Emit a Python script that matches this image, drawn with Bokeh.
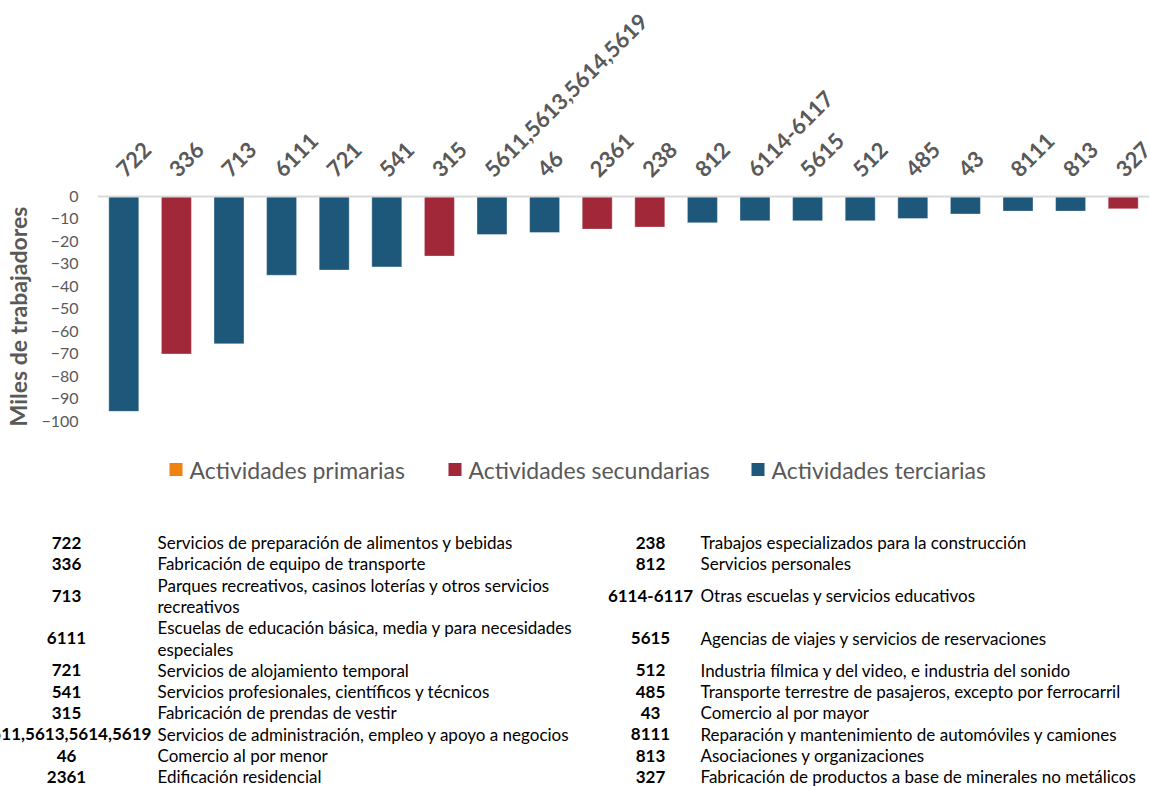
import math
from bokeh.plotting import figure
from bokeh.models import ColumnDataSource, FactorRange, Range1d, FixedTicker, Span
from bokeh.layouts import column, row
from bokeh.embed import file_html
from bokeh.resources import INLINE
from bokeh.core.properties import value

# ---------------- data ----------------
codes = ["722", "336", "713", "6111", "721", "541", "315", "5611,5613,5614,5619", "46", "2361",
         "238", "812", "6114-6117", "5615", "512", "485", "43", "8111", "813", "327"]
values = [-95.5, -70.0, -65.5, -35.0, -32.7, -31.3, -26.5, -16.9, -16.0, -14.5,
          -13.6, -11.7, -10.8, -10.8, -10.8, -9.8, -7.8, -6.5, -6.5, -5.5]
sectors = ["Actividades terciarias", "Actividades secundarias", "Actividades terciarias",
           "Actividades terciarias", "Actividades terciarias", "Actividades terciarias",
           "Actividades secundarias", "Actividades terciarias", "Actividades terciarias",
           "Actividades secundarias", "Actividades secundarias", "Actividades terciarias",
           "Actividades terciarias", "Actividades terciarias", "Actividades terciarias",
           "Actividades terciarias", "Actividades terciarias", "Actividades terciarias",
           "Actividades terciarias", "Actividades secundarias"]
sector_names = ["Actividades primarias", "Actividades secundarias", "Actividades terciarias"]
sector_colors = ["#f0820f", "#a02838", "#1d577a"]
y_ticks = list(range(-100, 1, 10))
y_title = "Miles de trabajadores"
descriptions = [
    "Servicios de preparación de alimentos y bebidas",
    "Fabricación de equipo de transporte",
    "Parques recreativos, casinos loterías y otros servicios\nrecreativos",
    "Escuelas de educación básica, media y para necesidades\nespeciales",
    "Servicios de alojamiento temporal",
    "Servicios profesionales, científicos y técnicos",
    "Fabricación de prendas de vestir",
    "Servicios de administración, empleo y apoyo a negocios",
    "Comercio al por menor",
    "Edificación residencial",
    "Trabajos especializados para la construcción",
    "Servicios personales",
    "Otras escuelas y servicios educativos",
    "Agencias de viajes y servicios de reservaciones",
    "Industria fílmica y del video, e industria del sonido",
    "Transporte terrestre de pasajeros, excepto por ferrocarril",
    "Comercio al por mayor",
    "Reparación y mantenimiento de automóviles y camiones",
    "Asociaciones y organizaciones",
    "Fabricación de productos a base de minerales no metálicos",
]

FONT = value("Lato")
GRAY = "#595959"

color_of = dict(zip(sector_names, sector_colors))
src = ColumnDataSource(dict(
    code=codes, val=values, zero=[0] * len(codes),
    color=[color_of[s] for s in sectors],
))

H1 = 438
TW = 38
W = 1150


def bare(fig):
    fig.outline_line_color = None
    fig.grid.visible = False
    fig.frame_align = False
    return fig


# ---------------- y title strip ----------------
t = bare(figure(x_range=Range1d(0, TW), y_range=Range1d(H1, 0), width=TW, height=H1,
                output_backend="svg", toolbar_location=None,
                x_axis_location=None, y_axis_location=None,
                min_border_left=0, min_border_right=0, min_border_top=0, min_border_bottom=0))
t.text(x=[17], y=[316], text=[y_title], angle=math.pi / 2, text_align="center",
       text_baseline="middle", text_font=FONT, text_font_size="23px",
       text_font_style="bold", text_color=GRAY)

# ---------------- chart ----------------
p = bare(figure(x_range=FactorRange(*codes), y_range=Range1d(-101.78, 87.11),
                width=W - TW, height=H1, output_backend="svg", toolbar_location=None,
                x_axis_location=None, min_border_left=58, min_border_right=1,
                min_border_top=0, min_border_bottom=13))

p.vbar(x="code", top="zero", bottom="val", width=0.57, fill_color="color",
       line_color="white", line_alpha=0.35, line_width=1, source=src)
p.add_layout(Span(location=0, dimension="width", line_color="#d9d9d9", line_width=2))

p.text(x="code", y="zero", text="code", source=src, angle=math.pi / 4,
       text_align="left", text_baseline="alphabetic", x_offset=-4, y_offset=-24,
       text_font=FONT, text_font_size="22px", text_font_style="bold", text_color=GRAY)

ax = p.yaxis[0]
ax.ticker = FixedTicker(ticks=y_ticks)
ax.axis_line_color = None
ax.major_tick_line_color = None
ax.minor_tick_line_color = None
ax.major_tick_out = 0
ax.major_tick_in = 0
ax.major_label_standoff = 19
ax.major_label_text_font = "Lato"
ax.major_label_text_font_size = "16px"
ax.major_label_text_color = GRAY

# ---------------- legend + table ----------------
H2 = 787 - H1
q = bare(figure(x_range=Range1d(0, W), y_range=Range1d(H2, 0), width=W, height=H2,
                output_backend="svg", toolbar_location=None,
                x_axis_location=None, y_axis_location=None,
                min_border_left=0, min_border_right=0, min_border_top=0, min_border_bottom=0))

leg_sq_x = [175.5, 454.5, 757.5]
leg_y = 469 - H1
q.rect(x=leg_sq_x, y=[leg_y] * 3, width=13, height=13, fill_color=sector_colors, line_color=None)
q.text(x=[x + 13.5 for x in leg_sq_x], y=[leg_y] * 3, text=sector_names,
       text_align="left", text_baseline="middle", text_font=FONT,
       text_font_size="23px", text_color=GRAY)

# table layout: slots shared by both columns
n_left = 10
slot_lines = [len(d.split("\n")) for d in descriptions[:n_left]]
lh = 21.3
top0 = 542 - H1
slot_center = []
acc = 0
for n in slot_lines:
    slot_center.append(top0 + (acc + (n - 1) / 2) * lh)
    acc += n

code_x = [66, 650]
desc_x = [157, 700]
cx, cy, ct, dx, dy, dt = [], [], [], [], [], []
for i, (c, d) in enumerate(zip(codes, descriptions)):
    col = 0 if i < n_left else 1
    slot = i % n_left
    cx.append(code_x[col]); cy.append(slot_center[slot]); ct.append(c)
    lines = d.split("\n")
    start = slot_center[slot] - (len(lines) - 1) / 2 * lh
    for k, ln in enumerate(lines):
        dx.append(desc_x[col]); dy.append(start + k * lh); dt.append(ln)

q.text(x=cx, y=cy, text=ct, text_align="center", text_baseline="middle",
       text_font=FONT, text_font_size="17px", text_font_style="bold", text_color="#000000")
q.text(x=dx, y=dy, text=dt, text_align="left", text_baseline="middle",
       text_font=FONT, text_font_size="17px", text_color="#000000")

layout = column(row(t, p, spacing=0), q, spacing=0)
open("out.html", "w").write(file_html(layout, INLINE))
